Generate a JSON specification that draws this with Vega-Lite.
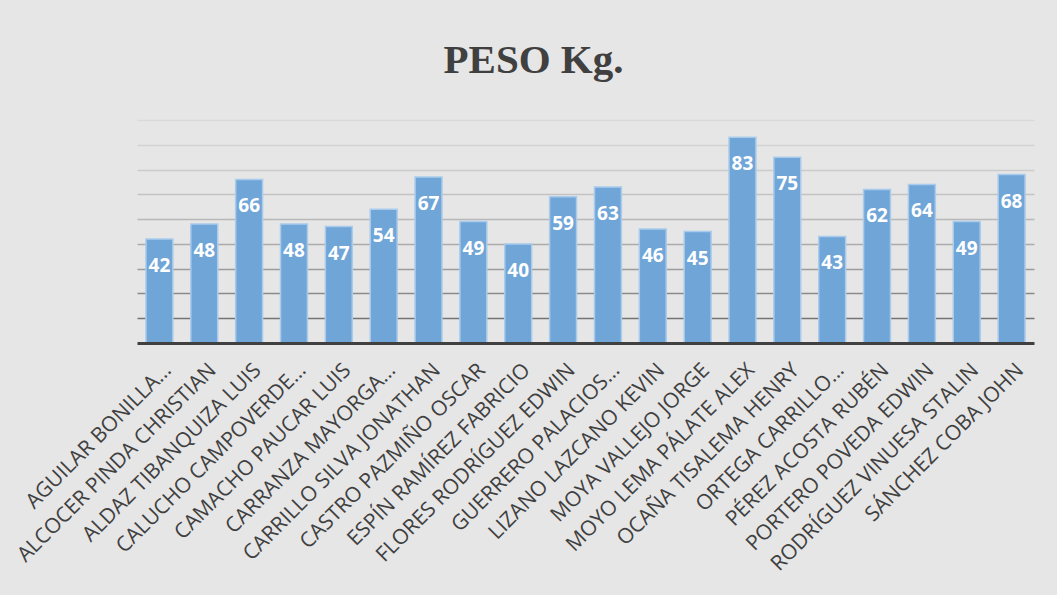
{
  "$schema": "https://vega.github.io/schema/vega-lite/v6.json",
  "autosize": "none",
  "width": 897,
  "height": 223,
  "padding": {"left": 137, "top": 120, "right": 23, "bottom": 252},
  "background": "#e6e6e6",
  "title": {
    "text": "PESO Kg.",
    "font": "Liberation Serif",
    "fontSize": 41,
    "fontWeight": "bold",
    "color": "#404040",
    "anchor": "middle",
    "dx": -52,
    "baseline": "alphabetic",
    "offset": 6
  },
  "data": {
    "values": [
      {"nombre": "AGUILAR BONILLA…", "peso": 42},
      {"nombre": "ALCOCER PINDA CHRISTIAN", "peso": 48},
      {"nombre": "ALDAZ TIBANQUIZA LUIS", "peso": 66},
      {"nombre": "CALUCHO CAMPOVERDE…", "peso": 48},
      {"nombre": "CAMACHO PAUCAR LUIS", "peso": 47},
      {"nombre": "CARRANZA MAYORGA…", "peso": 54},
      {"nombre": "CARRILLO SILVA JONATHAN", "peso": 67},
      {"nombre": "CASTRO PAZMIÑO OSCAR", "peso": 49},
      {"nombre": "ESPÍN RAMÍREZ FABRICIO", "peso": 40},
      {"nombre": "FLORES RODRÍGUEZ EDWIN", "peso": 59},
      {"nombre": "GUERRERO PALACIOS…", "peso": 63},
      {"nombre": "LIZANO LAZCANO KEVIN", "peso": 46},
      {"nombre": "MOYA VALLEJO JORGE", "peso": 45},
      {"nombre": "MOYO LEMA PÁLATE ALEX", "peso": 83},
      {"nombre": "OCAÑA TISALEMA HENRY", "peso": 75},
      {"nombre": "ORTEGA CARRILLO…", "peso": 43},
      {"nombre": "PÉREZ ACOSTA RUBÉN", "peso": 62},
      {"nombre": "PORTERO POVEDA EDWIN", "peso": 64},
      {"nombre": "RODRÍGUEZ VINUESA STALIN", "peso": 49},
      {"nombre": "SÁNCHEZ COBA JOHN", "peso": 68}
    ]
  },
  "encoding": {
    "x": {
      "field": "nombre",
      "type": "nominal",
      "sort": null,
      "title": null,
      "scale": {"paddingInner": 0.4, "paddingOuter": 0.2},
      "axis": {
        "labelAngle": -45,
        "labelAlign": "right",
        "labelBaseline": "alphabetic",
        "labelFont": "Open Sans",
        "labelFontSize": 21,
        "labelColor": "#404040",
        "labelPadding": 28,
        "labelOffset": 13,
        "labelLimit": 0,
        "labelOverlap": false,
        "ticks": false,
        "domainColor": "#404040",
        "domainWidth": 3,
        "grid": false,
        "zindex": 1
      }
    },
    "y": {
      "field": "peso",
      "type": "quantitative",
      "title": null,
      "scale": {"domain": [0, 90], "nice": false},
      "axis": {
        "values": [10, 20, 30, 40, 50, 60, 70, 80, 90],
        "labels": false,
        "ticks": false,
        "domain": false,
        "grid": true,
        "gridWidth": 1.5,
        "gridColor": {
          "condition": [
            {"test": "datum.value <= 10", "value": "#747474"},
            {"test": "datum.value <= 20", "value": "#8a8a8a"},
            {"test": "datum.value <= 30", "value": "#9c9c9c"},
            {"test": "datum.value <= 40", "value": "#ababab"},
            {"test": "datum.value <= 50", "value": "#b8b8b8"},
            {"test": "datum.value <= 60", "value": "#c3c3c3"},
            {"test": "datum.value <= 70", "value": "#cccccc"},
            {"test": "datum.value <= 80", "value": "#d3d3d3"}
          ],
          "value": "#d9d9d9"
        }
      }
    }
  },
  "layer": [
    {
      "mark": {
        "type": "bar",
        "fill": "#70a5d8",
        "stroke": "#a9cbec",
        "strokeWidth": 1.5
      }
    },
    {
      "mark": {
        "type": "text",
        "font": "Open Sans",
        "fontWeight": "bold",
        "fontSize": 19,
        "color": "#ffffff",
        "baseline": "middle",
        "dy": 27
      },
      "encoding": {"text": {"field": "peso", "type": "quantitative"}}
    }
  ],
  "config": {"view": {"stroke": null}}
}
